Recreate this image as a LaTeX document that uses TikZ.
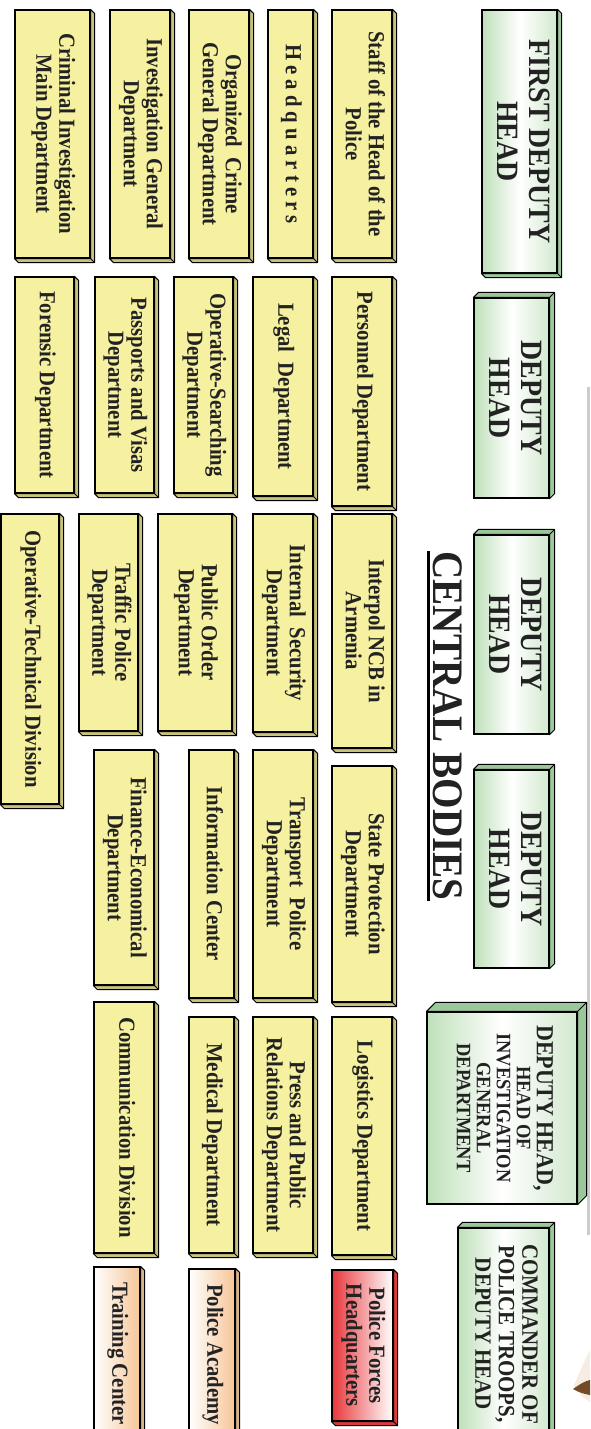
\documentclass[tikz,border=0pt]{standalone}
\usepackage{fontspec}
\setmainfont{Liberation Serif}[FakeStretch=0.9]
\usetikzlibrary{fit,calc}
\definecolor{yfill}{HTML}{F6F1A0}
\definecolor{ydeep}{HTML}{C9C27A}
\definecolor{gedge}{HTML}{BFE0BA}
\definecolor{gdeep}{HTML}{9CC79A}
\definecolor{redge}{HTML}{E8373B}
\definecolor{rdeep}{HTML}{D93A3A}
\definecolor{pedge}{HTML}{F6C597}
\definecolor{pdeep}{HTML}{D8B48C}
\definecolor{txt}{HTML}{222222}
\newcommand{\vtext}[1]{\rotatebox{-90}{\begin{tabular}{@{}c@{}}#1\end{tabular}}}
\begin{document}
\begin{tikzpicture}[x=1pt, y=-1pt,
  unit/.style={draw=black, line width=1.2pt, inner sep=0pt, text=txt},
  dept/.style={unit, fill=yfill, font=\bfseries\fontsize{23}{23}\selectfont},
  chief/.style={unit, left color=gedge, right color=gedge!70, middle color=white,
    font=\bfseries\fontsize{31}{32}\selectfont},
  school/.style={unit, left color=white, right color=pedge, font=\bfseries\fontsize{23}{23}\selectfont},
  troops/.style={unit, left color=redge, right color=white, font=\bfseries\fontsize{23}{23}\selectfont},
  deep/.style={draw=black, line width=1pt, line join=round}]
\useasboundingbox (0,0) rectangle (590,1429);
% page edge and emblem
\draw[black!20, line width=3pt] (588,387) -- (588,1235);
\fill[brown!15] (574,1386) .. controls (580,1370) and (586,1358) .. (590,1350) -- (590,1402) .. controls (584,1398) and (578,1393) .. (574,1386) -- cycle;
\fill[brown!60!black] (573,1389) .. controls (580,1384) and (585,1381) .. (590,1380) -- (590,1395) .. controls (584,1394) and (578,1392) .. (573,1389) -- cycle;

% heads
\node[chief, fit={(482,10) (557,273)}] (fdh) {\vtext{FIRST DEPUTY\\HEAD}};
\node[chief, fit={(474,298) (549,498)}] (dh1) {\vtext{DEPUTY\\HEAD}};
\node[chief, fit={(474,535) (549,734)}] (dh2) {\vtext{DEPUTY\\HEAD}};
\node[chief, fit={(474,770) (549,968)}] (dh3) {\vtext{DEPUTY\\HEAD}};
\node[chief, fit={(427,1012) (577,1204)}, font=\bfseries\fontsize{20.5}{20}\selectfont] (dhinv)
  {\vtext{{\fontsize{24.5}{27}\selectfont DEPUTY HEAD,}\\HEAD OF\\INVESTIGATION\\GENERAL\\DEPARTMENT}};
\node[chief, fit={(458,1228) (549,1440)}, font=\bfseries\fontsize{23.3}{23.5}\selectfont] (cmdr)
  {\vtext{COMMANDER OF\\POLICE TROOPS,\\DEPUTY HEAD}};

% title
\node[inner sep=0pt, text=txt, font=\bfseries\fontsize{43.5}{44}\selectfont] (title) at (448,726)
  {\rotatebox{-90}{CENTRAL BODIES}};
\draw[line width=3pt] ($(title.north west)+(-5,0)$) -- ($(title.south west)+(-5,0)$);

% departments
\node[dept, fit={(15,10) (90,258)}] (crim) {\vtext{Criminal Investigation\\Main Department}};
\node[dept, fit={(110,10) (170,258)}] (invgen) {\vtext{Investigation General\\Department}};
\node[dept, fit={(189,10) (249,258)}] (orgcr) {\vtext{Organized~\ Crime\\General Department}};
\node[dept, fit={(268,10) (313,258)}] (hq) {\vtext{H e a d q u a r t e r s}};
\node[dept, fit={(332,10) (392,258)}] (staff) {\vtext{Staff of the Head of the\\Police}};

\node[dept, fit={(15,277) (74,493)}] (foren) {\vtext{Forensic Department}};
\node[dept, fit={(95,277) (154,493)}] (pass) {\vtext{Passports and Visas\\Department}};
\node[dept, fit={(174,277) (233,493)}] (opsrch) {\vtext{Operative-Searching\\Department}};
\node[dept, fit={(253,277) (313,496)}] (legal) {\vtext{Legal~\ Department}};
\node[dept, fit={(332,277) (392,506)}] (pers) {\vtext{Personnel Department}};

\node[dept, fit={(1,514) (59,804)}] (optech) {\vtext{Operative-Technical Division}};
\node[dept, fit={(79,514) (138,731)}] (traffic) {\vtext{Traffic Police\\Department}};
\node[dept, fit={(158,514) (232,731)}] (puborder) {\vtext{Public Order\\Department}};
\node[dept, fit={(253,514) (313,732)}] (intsec) {\vtext{Internal~\ Security\\Department}};
\node[dept, fit={(332,514) (392,748)}] (interpol) {\vtext{Interpol NCB in\\Armenia}};

\node[dept, fit={(94,750) (154,985)}] (finance) {\vtext{Finance-Economical\\Department}};
\node[dept, fit={(189,750) (234,998)}] (info) {\vtext{Information Center}};
\node[dept, fit={(253,750) (313,998)}] (transp) {\vtext{Transport~\ Police\\Department}};
\node[dept, fit={(332,766) (392,1002)}] (stateprot) {\vtext{State Protection\\Department}};

\node[dept, fit={(94,1002) (154,1253)}] (comm) {\vtext{Communication Division}};
\node[dept, fit={(189,1017) (234,1253)}] (medical) {\vtext{Medical Department}};
\node[dept, fit={(253,1017) (313,1253)}] (press) {\vtext{Press and Public\\Relations Department}};
\node[dept, fit={(332,1017) (392,1255)}] (logist) {\vtext{Logistics Department}};

\node[school, fit={(94,1267) (140,1440)}] (training) {\vtext{Training Center}};
\node[school, fit={(189,1269) (235,1440)}] (academy) {\vtext{Police Academy}};
\node[troops, fit={(332,1270) (393,1421)}] (pfhq) {\vtext{Police Forces\\Headquarters}};

% depth of the boxes
\foreach \n/\c in {crim/ydeep,invgen/ydeep,orgcr/ydeep,hq/ydeep,staff/ydeep,
    foren/ydeep,pass/ydeep,opsrch/ydeep,legal/ydeep,pers/ydeep,
    optech/ydeep,traffic/ydeep,puborder/ydeep,intsec/ydeep,interpol/ydeep,
    finance/ydeep,info/ydeep,transp/ydeep,stateprot/ydeep,
    comm/ydeep,medical/ydeep,press/ydeep,logist/ydeep,
    training/pdeep,academy/pdeep,pfhq/rdeep,fdh/gdeep}
  \draw[deep, fill=\c] (\n.north east) -- ++(4,4) -- ($(\n.south east)+(4,4)$)
    -- ($(\n.south west)+(4,4)$) -- (\n.south west) -- (\n.south east) -- cycle
    (\n.south east) -- ++(4,4);
\foreach \n/\d in {dh1/5,dh2/5,dh3/5,cmdr/5,dhinv/9}
  \draw[deep, fill=gdeep] (\n.south east) -- ++(\d,-\d) -- ($(\n.north east)+(\d,-\d)$)
    -- ($(\n.north west)+(\d,-\d)$) -- (\n.north west) -- (\n.north east) -- cycle
    (\n.north east) -- ++(\d,-\d);
\end{tikzpicture}
\end{document}
